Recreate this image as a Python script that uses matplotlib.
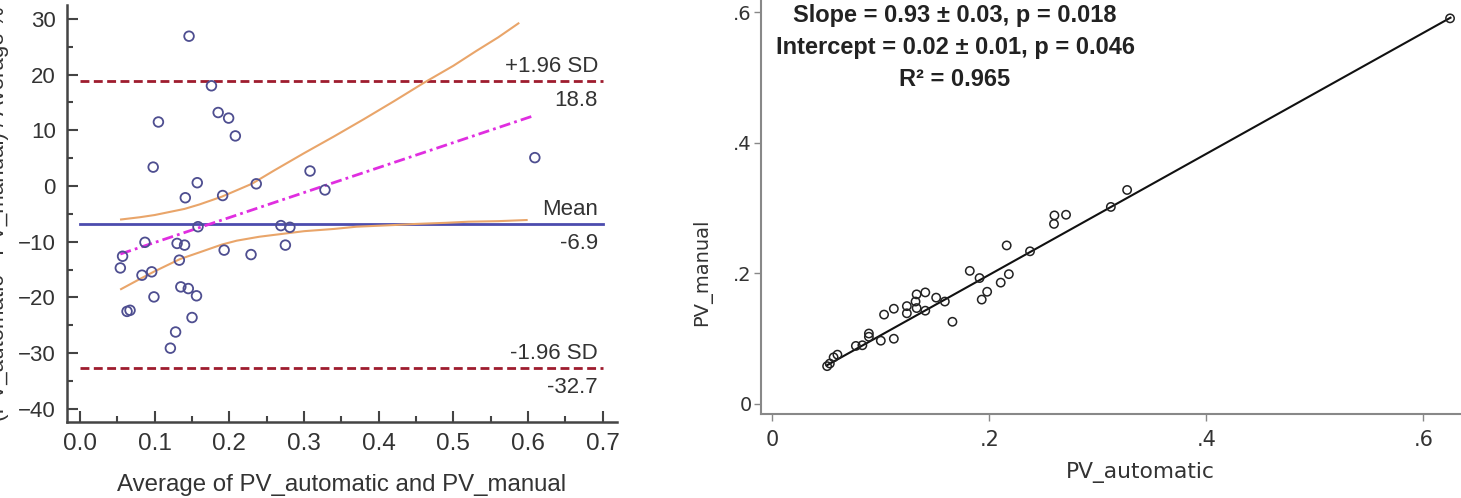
import matplotlib
matplotlib.use('Agg')
import matplotlib.pyplot as plt
from matplotlib.ticker import MultipleLocator

plt.rcParams['font.family'] = ['Liberation Sans', 'DejaVu Sans']

# Bland-Altman: average vs difference (%)
ba_avg = [0.146, 0.176, 0.185, 0.199, 0.208, 0.105, 0.098, 0.157, 0.141, 0.191,
          0.236, 0.308, 0.328, 0.269, 0.281, 0.275, 0.229, 0.158, 0.087, 0.130,
          0.140, 0.057, 0.054, 0.133, 0.083, 0.096, 0.135, 0.145, 0.156, 0.099,
          0.063, 0.067, 0.150, 0.128, 0.121, 0.193, 0.609]
ba_diff = [26.9, 18.0, 13.2, 12.2, 9.0, 11.5, 3.4, 0.6, -2.1, -1.7,
           0.4, 2.7, -0.7, -7.1, -7.4, -10.6, -12.3, -7.3, -10.1, -10.3,
           -10.6, -12.6, -14.7, -13.3, -16.0, -15.4, -18.1, -18.4, -19.7, -19.9,
           -22.5, -22.3, -23.6, -26.2, -29.1, -11.5, 5.1]

mean_diff = -6.9
upper_loa = 18.8
lower_loa = -32.7
loa_x = [0.0, 0.7]

# regression of difference on average and its confidence band
reg_x = [0.054, 0.607]
reg_y = [-12.2, 12.6]
ci_up_x = [0.055, 0.08, 0.10, 0.14, 0.16, 0.19, 0.23, 0.26, 0.30, 0.34, 0.38,
           0.42, 0.46, 0.50, 0.53, 0.56, 0.587]
ci_up_y = [-6.0, -5.6, -5.2, -4.1, -3.3, -1.9, 0.4, 2.8, 5.9, 8.9, 12.0,
           15.2, 18.5, 21.6, 24.2, 26.7, 29.2]
ci_lo_x = [0.055, 0.08, 0.10, 0.134, 0.16, 0.19, 0.21, 0.24, 0.27, 0.30, 0.34,
           0.37, 0.42, 0.45, 0.49, 0.52, 0.56, 0.598]
ci_lo_y = [-18.5, -16.7, -15.3, -13.1, -11.9, -10.5, -9.8, -9.1, -8.6, -8.1, -7.7,
           -7.3, -7.0, -6.8, -6.6, -6.4, -6.3, -6.1]

# scatter PV_automatic vs PV_manual
pv_auto = [0.0505, 0.053, 0.0565, 0.060, 0.077, 0.083, 0.089, 0.089, 0.100, 0.112,
           0.103, 0.112, 0.124, 0.124, 0.132, 0.133, 0.141, 0.133, 0.141, 0.151,
           0.159, 0.166, 0.182, 0.191, 0.193, 0.198, 0.2105, 0.218, 0.2375, 0.216,
           0.2596, 0.260, 0.2707, 0.312, 0.327, 0.6246]
pv_manual = [0.058, 0.062, 0.0715, 0.0756, 0.089, 0.090, 0.108, 0.103, 0.097, 0.100,
             0.137, 0.146, 0.150, 0.139, 0.157, 0.168, 0.171, 0.147, 0.143, 0.163,
             0.157, 0.126, 0.204, 0.193, 0.160, 0.172, 0.186, 0.199, 0.234, 0.243,
             0.276, 0.289, 0.290, 0.302, 0.328, 0.591]
fit_x = [0.05, 0.625]
fit_y = [0.059, 0.592]

fig = plt.figure(figsize=(14.61, 4.98), dpi=100)
W, H = 1461, 498

# ---- left panel ----
ax1 = fig.add_axes([67 / W, 1 - 421.7 / H, 550 / W, 416.7 / H])
ax1.plot(loa_x, [upper_loa, upper_loa], color='#9e1c2e', lw=2, ls=(0, (3.2, 1.6)))
ax1.plot(loa_x, [lower_loa, lower_loa], color='#9e1c2e', lw=2, ls=(0, (3.2, 1.6)))
ax1.plot(loa_x, [mean_diff, mean_diff], color='#4c4cae', lw=2)
ax1.plot(ci_up_x, ci_up_y, color='#e9a56a', lw=1.5)
ax1.plot(ci_lo_x, ci_lo_y, color='#e9a56a', lw=1.5)
ax1.plot(reg_x, reg_y, color='#e02ee0', lw=2, ls=(0, (4, 1.5, 1, 1.5)))
ax1.scatter(ba_avg, ba_diff, s=48, facecolors='none', edgecolors='#4e4e90', lw=1.3, zorder=3)

lab_x = 0.6935
for val, name in [(upper_loa, '+1.96 SD'), (mean_diff, 'Mean'), (lower_loa, '-1.96 SD')]:
    ax1.annotate(name, (lab_x, val), xytext=(0, 3), textcoords='offset points',
                 ha='right', va='bottom', fontsize=16, color='#333333')
    ax1.annotate(f'{val:.1f}', (lab_x, val), xytext=(0, -6), textcoords='offset points',
                 ha='right', va='top', fontsize=16, color='#333333')

ax1.set_xlim(-0.0174, 0.719)
ax1.set_ylim(-42.3, 32.5)
ax1.xaxis.set_major_locator(MultipleLocator(0.1))
ax1.xaxis.set_minor_locator(MultipleLocator(0.05))
ax1.yaxis.set_major_locator(MultipleLocator(10))
ax1.yaxis.set_minor_locator(MultipleLocator(5))
ax1.xaxis.set_major_formatter(lambda v, p: f'{v:.1f}')
ax1.tick_params(which='both', direction='in', color='#444444', width=1.5)
ax1.tick_params(which='major', length=8)
ax1.tick_params(which='minor', length=4.5)
ax1.tick_params(axis='x', labelsize=17.5, pad=8, labelcolor='#333333')
ax1.tick_params(axis='y', labelsize=16, pad=8, labelcolor='#333333')
for s in ['top', 'right']:
    ax1.spines[s].set_visible(False)
for s in ['left', 'bottom']:
    ax1.spines[s].set_color('#444444')
    ax1.spines[s].set_linewidth(1.8)
ax1.set_xlabel('Average of PV_automatic and PV_manual', fontsize=17.3, color='#333333')
ax1.xaxis.set_label_coords(0.5, -0.125)
ax1.set_ylabel('(PV_automatic - PV_manual) / Average %', fontsize=16, color='#333333')
ax1.yaxis.set_label_coords(-0.105, 0.5)

# ---- right panel ----
ax2 = fig.add_axes([760.7 / W, 1 - 414.3 / H, 700.3 / W, 413.3 / H])
ax2.scatter(pv_auto, pv_manual, s=36, facecolors='none', edgecolors='#222222', lw=1.1, zorder=3)
ax2.plot(fit_x, fit_y, color='#111111', lw=1.5)

ax2.set_xlim(-0.0107, 0.6347)
ax2.set_ylim(-0.0158, 0.6176)
ax2.set_xticks([0, 0.2, 0.4, 0.6], ['0', '.2', '.4', '.6'])
ax2.set_yticks([0, 0.2, 0.4, 0.6], ['0', '.2', '.4', '.6'])
ax2.tick_params(direction='out', length=5, width=1, color='#888888', labelcolor='#333333')
ax2.tick_params(axis='x', labelsize=15, pad=6)
ax2.tick_params(axis='y', labelsize=14, pad=1.5)
for lbl in ax2.get_xticklabels() + ax2.get_yticklabels():
    lbl.set_family('DejaVu Sans')
for s in ['top', 'right']:
    ax2.spines[s].set_visible(False)
for s in ['left', 'bottom']:
    ax2.spines[s].set_color('#888888')
    ax2.spines[s].set_linewidth(1.5)
ax2.set_xlabel('PV_automatic', fontsize=15.7, color='#333333', family='DejaVu Sans')
ax2.xaxis.set_label_coords(0.5416, -0.115)
ax2.set_ylabel('PV_manual', fontsize=14, color='#333333', family='DejaVu Sans')
ax2.yaxis.set_label_coords(-0.07, 0.344)

stats = ['Slope = 0.93 \u00b1 0.03, p = 0.018',
         'Intercept = 0.02 \u00b1 0.01, p = 0.046',
         'R\u00b2 = 0.965']
for txt, yy in zip(stats, [0.966, 0.8887, 0.809]):
    ax2.text(0.2775, yy, txt, transform=ax2.transAxes, ha='center', va='center',
             fontsize=17, fontweight='bold', color='#222222')

fig.savefig('out.png', dpi=100)
